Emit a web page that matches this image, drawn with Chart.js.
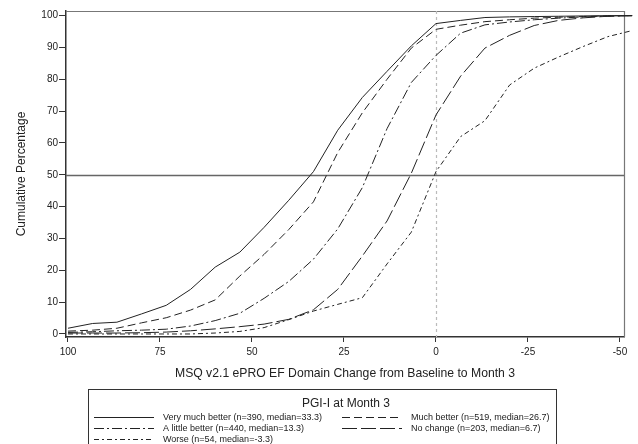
<!DOCTYPE html>
<html><head><meta charset="utf-8">
<script src="https://cdn.jsdelivr.net/npm/chart.js@4/dist/chart.umd.min.js"></script>
<style>html,body{margin:0;padding:0;background:#fff}#wrap{width:638px;height:444px}</style>
</head><body><div id="wrap"><canvas id="c" width="638" height="444"></canvas></div>
<script>
// ---- data ----
const xValues = [100, 93.3, 86.7, 80, 73.3, 66.7, 60, 53.3, 46.7, 40, 33.3, 26.7, 20, 13.3, 6.7, 0, -6.7, -13.3, -20, -26.7, -33.3, -40, -46.7, -53.3];
const seriesNames = [
  "Very much better (n=390, median=33.3)",
  "Much better (n=519, median=26.7)",
  "A little better (n=440, median=13.3)",
  "No change (n=203, median=6.7)",
  "Worse (n=54, median=-3.3)"
];
const veryMuchBetter = [1.8, 3.3, 3.7, 6.3, 9.0, 14.0, 21.0, 25.7, 33.5, 42.0, 51.0, 64.0, 74.3, 82.5, 90.5, 97.5, 98.5, 99.4, 99.6, 99.7, 99.8, 99.9, 100, 100];
const muchBetter     = [0.9, 1.2, 1.8, 3.5, 5.1, 7.5, 10.7, 18.2, 25.0, 32.8, 41.5, 57.0, 69.5, 80.0, 89.8, 95.7, 97.0, 98.1, 98.7, 99.2, 99.5, 99.7, 99.9, 100];
const aLittleBetter  = [0.5, 0.7, 1.0, 1.2, 1.5, 2.5, 4.2, 6.5, 11.2, 16.5, 23.5, 33.0, 46.0, 64.5, 79.0, 87.5, 94.5, 97.1, 98.0, 98.7, 99.2, 99.6, 99.8, 100];
const noChange       = [0.3, 0.3, 0.3, 0.4, 0.6, 1.0, 1.6, 2.3, 3.1, 4.6, 7.6, 14.0, 24.5, 35.5, 50.5, 68.8, 81.0, 89.8, 93.8, 96.9, 98.5, 99.3, 99.8, 100];
const worse          = [0, 0, 0, 0, 0, 0, 0.3, 0.8, 2.0, 4.5, 7.2, 9.3, 11.4, 22.0, 32.0, 51.0, 62.0, 67.0, 78.2, 83.5, 87.0, 90.3, 93.4, 95.3];
const xTicks = [100, 75, 50, 25, 0, -25, -50];
const yTicks = [0, 10, 20, 30, 40, 50, 60, 70, 80, 90, 100];
const refLineY = 50;
const refLineX = 0;
const legendTitle = "PGI-I at Month 3";
const xTitle = "MSQ v2.1 ePRO EF Domain Change from Baseline to Month 3";
const yTitle = "Cumulative Percentage";

// ---- styles ----
const seriesValues = [veryMuchBetter, muchBetter, aLittleBetter, noChange, worse];
const dashes = [[], [8, 4], [10, 3, 2, 3], [15, 4], [5, 3, 2, 3]];
const FONT = '"Liberation Sans", Arial, sans-serif';
const INK = '#222';

const refPlugin = {
  id: 'refLines',
  beforeDatasetsDraw(chart) {
    const {ctx, chartArea: a, scales: {x, y}} = chart;
    ctx.save();
    ctx.strokeStyle = '#777'; ctx.lineWidth = 1.2; ctx.setLineDash([]);
    ctx.beginPath(); ctx.moveTo(a.left, a.top + 0.5); ctx.lineTo(a.right + 0.5, a.top + 0.5); ctx.lineTo(a.right + 0.5, a.bottom); ctx.stroke();
    const px = Math.round(x.getPixelForValue(refLineX)) + 0.5;
    ctx.strokeStyle = '#bbb'; ctx.lineWidth = 1.2; ctx.setLineDash([3, 3]);
    ctx.beginPath(); ctx.moveTo(px, a.top); ctx.lineTo(px, a.bottom); ctx.stroke();
    const py = Math.round(y.getPixelForValue(refLineY)) + 0.5;
    ctx.strokeStyle = '#666'; ctx.lineWidth = 1.5; ctx.setLineDash([]);
    ctx.beginPath(); ctx.moveTo(a.left, py); ctx.lineTo(a.right, py); ctx.stroke();
    ctx.restore();
  }
};

const legendPlugin = {
  id: 'pgiLegend',
  afterDraw(chart) {
    const ctx = chart.ctx;
    ctx.save();
    const bx = 88.5, by = 389.5, bw = 468, bh = 60;
    ctx.strokeStyle = '#333'; ctx.lineWidth = 1; ctx.setLineDash([]);
    ctx.strokeRect(bx, by, bw, bh);
    ctx.fillStyle = INK; ctx.font = '12px ' + FONT;
    ctx.textAlign = 'center'; ctx.textBaseline = 'middle';
    ctx.fillText(legendTitle, 346, 403.5);
    ctx.textAlign = 'left'; ctx.font = '9px ' + FONT;
    chart.data.datasets.forEach((ds, i) => {
      const col = i % 2, row = Math.floor(i / 2);
      const sx = col ? 342 : 94;
      const yy = 417.5 + row * 11;
      ctx.beginPath(); ctx.setLineDash(ds.borderDash || []);
      ctx.strokeStyle = INK; ctx.lineWidth = 1;
      ctx.moveTo(sx, yy); ctx.lineTo(sx + 60, yy); ctx.stroke();
      ctx.setLineDash([]);
      ctx.fillText(ds.label, sx + 69, yy);
    });
    ctx.restore();
  }
};

new Chart(document.getElementById('c'), {
  type: 'line',
  data: {
    datasets: seriesNames.map((name, i) => ({
      label: name,
      data: xValues.map((xv, j) => ({x: xv, y: seriesValues[i][j]})),
      borderColor: INK, borderWidth: 1, borderDash: dashes[i],
      pointRadius: 0, tension: 0, fill: false, clip: false
    }))
  },
  options: {
    animation: false, responsive: false, devicePixelRatio: 1,
    layout: {padding: {left: 0, right: 14, top: 11, bottom: 63}},
    plugins: {legend: {display: false}, tooltip: {enabled: false}},
    scales: {
      x: {
        type: 'linear', reverse: true, min: -51.09, max: 100.54,
        afterBuildTicks: s => { s.ticks = xTicks.map(v => ({value: v})); },
        afterFit: s => { s.height = 44; },
        border: {display: true, color: '#333', width: 1.5},
        grid: {display: true, drawOnChartArea: false, drawTicks: true, tickLength: 5, tickColor: '#333'},
        ticks: {color: INK, font: {family: FONT, size: 10}, padding: 4, maxRotation: 0},
        title: {display: true, text: xTitle, color: INK, font: {family: FONT, size: 12.2}, padding: {top: 0, bottom: 0}}
      },
      y: {
        type: 'linear', min: -0.95, max: 101.45,
        afterBuildTicks: s => { s.ticks = yTicks.map(v => ({value: v})); },
        afterFit: s => { s.width = 66; },
        border: {display: true, color: '#333', width: 1.5},
        grid: {display: true, drawOnChartArea: false, drawTicks: true, tickLength: 7, tickColor: '#333'},
        ticks: {color: INK, font: {family: FONT, size: 10}, padding: 1},
        title: {display: true, text: yTitle, color: INK, font: {family: FONT, size: 12}, padding: {top: 14, bottom: 0}}
      }
    }
  },
  plugins: [refPlugin, legendPlugin]
});
</script>
</body></html>
